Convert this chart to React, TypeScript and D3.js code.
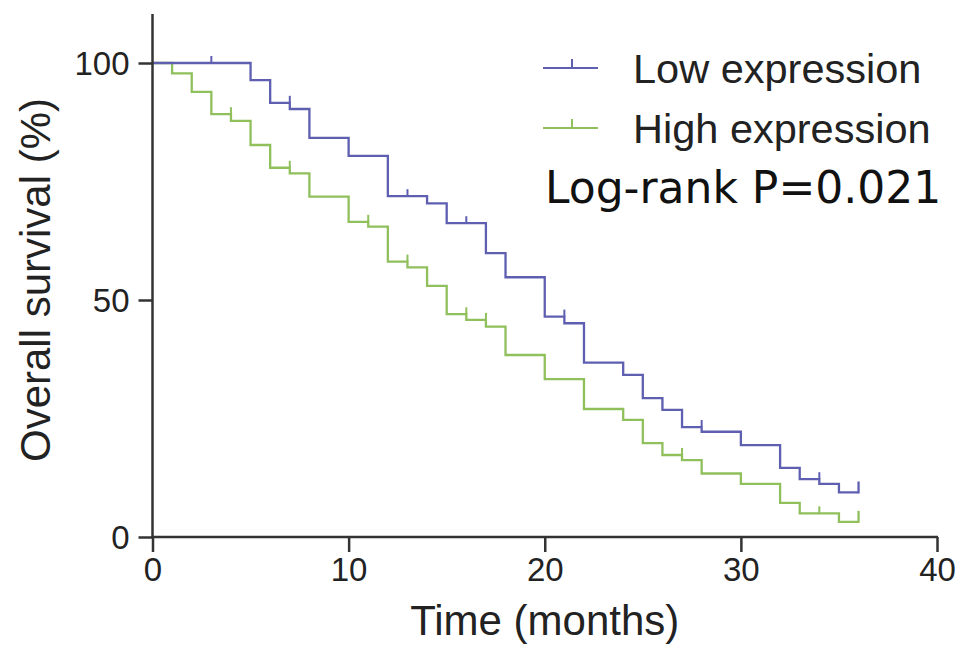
import { useRef, useEffect } from "react"
import * as d3 from "d3"

// Kaplan-Meier steps: [month, survival %] after each event
const lowTimes = [0, 5, 6, 7, 8, 10, 12, 14, 15, 17, 18, 20, 21, 22, 24, 25, 26, 27, 28, 30, 32, 33, 34, 35, 36]
const lowSurv = [100, 96.4, 91.6, 90.3, 84.2, 80.4, 71.9, 70.4, 66.2, 59.9, 54.8, 46.5, 45.1, 36.8, 34.2, 29.3, 26.8, 23.2, 22.2, 19.4, 14.6, 12.2, 11.2, 9.4, 9.4]
const lowCensor = [3, 7, 13, 16, 21, 28, 34]

const highTimes = [0, 1, 2, 3, 4, 5, 6, 7, 8, 10, 11, 12, 13, 14, 15, 16, 17, 18, 20, 22, 24, 25, 26, 27, 28, 30, 32, 33, 35, 36]
const highSurv = [100, 97.8, 93.9, 89.2, 87.8, 82.7, 77.9, 76.7, 71.8, 66.5, 65.5, 58.1, 56.9, 53, 47, 45.8, 44.4, 38.4, 33.3, 27, 24.7, 19.8, 17.3, 16.2, 13.4, 11.2, 7.2, 5, 3.2, 3.2]
const highCensor = [4, 7, 11, 13, 16, 17, 27, 34]

const seriesNames = ["Low expression", "High expression"]
const seriesColors = ["#5f5fb2", "#8fc05c"]
const xTicks = [0, 10, 20, 30, 40]
const yTicks = [0, 50, 100]
const pValueText = "Log-rank P=0.021"

export default function App() {
  const svgRef = useRef<SVGSVGElement | null>(null)

  useEffect(() => {
    if (!svgRef.current) return
    const svg = d3.select(svgRef.current)
    svg.selectAll("*").remove()

    const x = d3.scaleLinear().domain([0, 40]).range([152.5, 937])
    const y = d3.scaleLinear().domain([0, 100]).range([537, 63])
    const axisColor = "#333"
    const font = "'Liberation Sans', Arial, sans-serif"

    // Curves (high drawn first so low sits on top where they overlap)
    const series = [
      { t: lowTimes, s: lowSurv, c: lowCensor, color: seriesColors[0] },
      { t: highTimes, s: highSurv, c: highCensor, color: seriesColors[1] },
    ]
    const line = d3
      .line<[number, number]>()
      .x((d) => x(d[0]))
      .y((d) => y(d[1]))
      .curve(d3.curveStepAfter)

    series
      .slice()
      .reverse()
      .forEach((ser) => {
        const pts = ser.t.map((t, j) => [t, ser.s[j]] as [number, number])
        svg
          .append("path")
          .attr("d", line(pts))
          .attr("fill", "none")
          .attr("stroke", ser.color)
          .attr("stroke-width", 2.3)

        // censor marks sit on the level just before the censor time
        const survAt = (t: number) => {
          let v = 100
          ser.t.forEach((tt, j) => {
            if (tt <= t) v = ser.s[j]
          })
          return v
        }
        svg
          .selectAll(null)
          .data(ser.c)
          .enter()
          .append("line")
          .attr("x1", (d) => x(d))
          .attr("x2", (d) => x(d))
          .attr("y1", (d) => y(survAt(d - 0.01)))
          .attr("y2", (d) => y(survAt(d - 0.01)) - 7)
          .attr("stroke", ser.color)
          .attr("stroke-width", 2)

        // end-of-follow-up tick
        const last = ser.t.length - 1
        svg
          .append("line")
          .attr("x1", x(ser.t[last]))
          .attr("x2", x(ser.t[last]))
          .attr("y1", y(ser.s[last]) + 1)
          .attr("y2", y(ser.s[last]) - 11)
          .attr("stroke", ser.color)
          .attr("stroke-width", 2.3)
      })

    // Axes
    const gx = svg.append("g").attr("transform", `translate(0,${y(0)})`)
    gx.call(d3.axisBottom(x).tickValues(xTicks).tickSize(15).tickSizeOuter(0).tickPadding(6))
    const gy = svg.append("g").attr("transform", `translate(${x(0)},0)`)
    gy.call(d3.axisLeft(y).tickValues(yTicks).tickSize(14).tickSizeOuter(0).tickPadding(9))
    ;[gx, gy].forEach((g) => {
      g.select(".domain").remove()
      g.selectAll(".tick line").attr("stroke", axisColor).attr("stroke-width", 2.5)
      g.selectAll(".tick text")
        .attr("fill", "#222")
        .style("font-family", font)
        .style("font-size", "33px")
    })
    gy.selectAll(".tick text").attr("dy", "0.35em")

    svg
      .append("line")
      .attr("x1", x(0))
      .attr("x2", x(0))
      .attr("y1", 14)
      .attr("y2", y(0) + 1)
      .attr("stroke", axisColor)
      .attr("stroke-width", 2.5)
    svg
      .append("line")
      .attr("x1", x(0) - 1)
      .attr("x2", x(40) + 1)
      .attr("y1", y(0))
      .attr("y2", y(0))
      .attr("stroke", axisColor)
      .attr("stroke-width", 2.5)

    // Axis titles
    svg
      .append("text")
      .attr("x", (x(0) + x(40)) / 2)
      .attr("y", 635)
      .attr("text-anchor", "middle")
      .attr("fill", "#222")
      .style("font-family", font)
      .style("font-size", "42px")
      .text("Time (months)")
    svg
      .append("text")
      .attr("transform", `translate(50,280) rotate(-90)`)
      .attr("text-anchor", "middle")
      .attr("fill", "#222")
      .style("font-family", font)
      .style("font-size", "42px")
      .text("Overall survival (%)")

    // Legend
    const legendY = [68, 128]
    seriesNames.forEach((name, i) => {
      svg
        .append("line")
        .attr("x1", 543)
        .attr("x2", 598)
        .attr("y1", legendY[i])
        .attr("y2", legendY[i])
        .attr("stroke", seriesColors[i])
        .attr("stroke-width", 2)
      svg
        .append("line")
        .attr("x1", 572)
        .attr("x2", 572)
        .attr("y1", legendY[i])
        .attr("y2", legendY[i] - 9)
        .attr("stroke", seriesColors[i])
        .attr("stroke-width", 2)
      svg
        .append("text")
        .attr("x", 633)
        .attr("y", legendY[i] + 15)
        .attr("fill", "#222")
        .style("font-family", font)
        .style("font-size", "41.5px")
        .text(name)
    })

    svg
      .append("text")
      .attr("x", 545)
      .attr("y", 203)
      .attr("fill", "#111")
      .style("font-family", "'DejaVu Sans', sans-serif")
      .style("font-size", "44px")
      .text(pValueText)
  }, [])

  return (
    <svg
      ref={svgRef}
      width={969}
      height={670}
      style={{ position: "absolute", left: 0, top: 0, background: "#fff" }}
    ></svg>
  )
}
